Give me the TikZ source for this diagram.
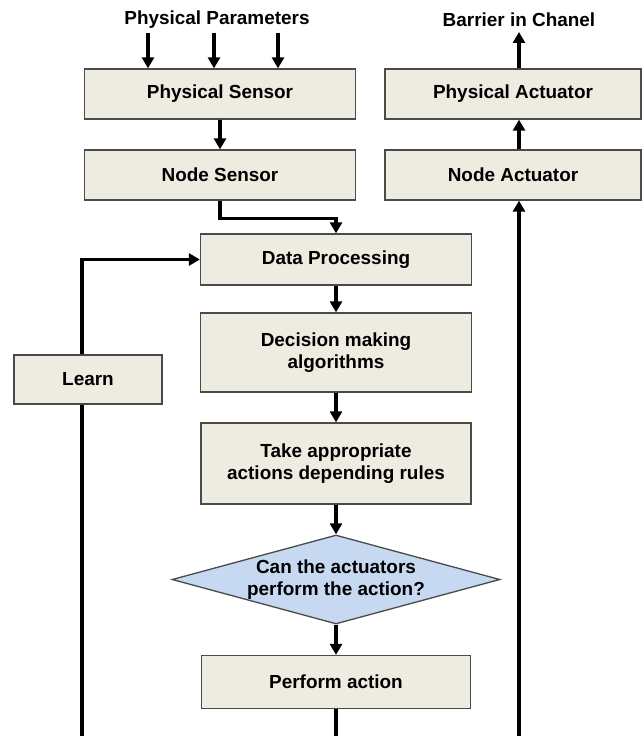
\documentclass[tikz,border=0pt]{standalone}
\usepackage{fontspec}
\setmainfont{Liberation Sans}
\usetikzlibrary{arrows.meta,shapes.geometric,calc}
\definecolor{boxfill}{HTML}{EEECE1}
\definecolor{diafill}{HTML}{C6D9F1}
\definecolor{boxline}{HTML}{4A4A4A}
\begin{document}
\begin{tikzpicture}[x=1bp,y=-1bp,
  txt/.style={font=\fontsize{19}{21.5}\selectfont\bfseries, text=black, align=center, inner sep=0},
  box/.style={txt, draw=boxline, line width=1.3bp, fill=boxfill, rectangle},
  dia/.style={draw=boxline, line width=1.3bp, fill=diafill, shape=diamond, inner sep=0},
  conn/.style={line width=3.3bp, black},
  arr/.style={conn, -{Triangle[length=11bp,width=12bp]}}
]
\useasboundingbox (0,0) rectangle (643,736);
% top texts
\node[txt] (pp) at (217,20) {Physical Parameters};
\node[txt] (bc) at (519,20) {Barrier in Chanel};
% boxes
\node[box, minimum width=271bp, minimum height=50bp] (PS) at (220,94) {Physical Sensor};
\node[box, minimum width=271bp, minimum height=50bp] (NS) at (220,175) {Node Sensor};
\node[box, minimum width=256bp, minimum height=50bp] (PA) at (513,94) {Physical Actuator};
\node[box, minimum width=256bp, minimum height=50bp] (NA) at (513,175) {Node Actuator};
\node[box, minimum width=271bp, minimum height=51bp] (DP) at (336,259.5) {Data Processing};
\node[box, minimum width=271bp, minimum height=79bp] (DM) at (336,352.5) {Decision making\\algorithms};
\node[box, minimum width=270bp, minimum height=81bp] (TA) at (336,463.5) {Take appropriate\\actions depending rules};
\node[dia, minimum width=328bp, minimum height=89bp,
  label={[txt]center:Can the actuators\\perform the action?}] (CA) at (336,579.5) {};
\node[box, minimum width=269bp, minimum height=53bp] (PF) at (336,682) {Perform action};
\node[box, minimum width=148bp, minimum height=49bp] (L) at (88,379.5) {Learn};
% coordinates
\coordinate (p1) at (148,33);
\coordinate (p2) at (214,33);
\coordinate (p3) at (278,33);
\coordinate (a0) at (519,32);
\coordinate (b1) at (82,736);
\coordinate (b2) at (336,736);
\coordinate (b3) at (519,736);
% connectors
\draw[arr] (p1) -- (p1 |- PS.north);
\draw[arr] (p2) -- (p2 |- PS.north);
\draw[arr] (p3) -- (p3 |- PS.north);
\draw[arr] (PS.south) -- (NS.north);
\draw[arr] (NS.south) -- ++(0,18) -| (DP.north);
\draw[arr] (DP.south) -- (DM.north);
\draw[arr] (DM.south) -- (TA.north);
\draw[arr] (TA.south) -- (CA.north);
\draw[arr] (CA.south) -- (PF.north);
\draw[conn] (PF.south) -- (b2);
\draw[conn] (b1) -- (b1 |- L.south);
\draw[arr] (b1 |- L.north) |- (DP.west);
\draw[arr] (b3) -- (b3 |- NA.south);
\draw[arr] (b3 |- NA.north) -- (b3 |- PA.south);
\draw[arr] (b3 |- PA.north) -- (a0);
\end{tikzpicture}
\end{document}
